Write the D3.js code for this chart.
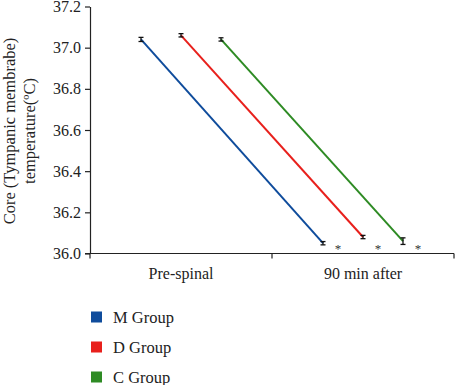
<!DOCTYPE html>
<html><head><meta charset="utf-8">
<script src="https://cdn.jsdelivr.net/npm/d3@7"></script>
<style>body{margin:0;background:#fff}svg{display:block}</style>
</head><body>
<svg id="c" width="455" height="385"></svg>
<script>
const categories = ["Pre-spinal", "90 min after"];
const groups = ["M Group", "D Group", "C Group"];
const colors = ["#0f4c9c", "#e8201c", "#2e8b24"];
const valuesM = [37.04, 36.05];
const valuesD = [37.06, 36.08];
const valuesC = [37.04, 36.06];
const errorsM = [0.01, 0.008];
const errorsD = [0.008, 0.008];
const errorsC = [0.008, 0.016];
const yTicks = [36.0, 36.2, 36.4, 36.6, 36.8, 37.0, 37.2];
const stars = ["*", "*", "*"];

const series = [valuesM, valuesD, valuesC];
const errs = [errorsM, errorsD, errorsC];

const svg = d3.select("#c");
const font = "Liberation Serif, DejaVu Serif, serif";
const x = d3.scaleBand().domain(categories).range([90, 454]).padding(0);
const g = d3.scalePoint().domain(groups).range([-40, 40]);
const y = d3.scaleLinear().domain([36.0, 37.2]).range([253.5, 6.5]);

// y axis
const yAxis = svg.append("g").attr("transform", "translate(90,0)")
  .call(d3.axisLeft(y).tickValues(yTicks).tickFormat(d3.format(".1f")).tickSize(5).tickSizeOuter(0));
yAxis.attr("font-family", null).attr("font-size", null);
yAxis.select(".domain").attr("stroke", "#222").attr("stroke-width", 1.2);
yAxis.selectAll(".tick line").attr("stroke", "#222").attr("stroke-width", 1.2);
yAxis.selectAll("text").style("font-family", font).style("font-size", "16px").attr("fill", "#222").attr("x", -9);

// x axis
const xa = svg.append("g");
xa.append("line").attr("x1", 85).attr("x2", 454).attr("y1", y(36)).attr("y2", y(36))
  .attr("stroke", "#222").attr("stroke-width", 1.2);
const bounds = categories.map(c => x(c)).concat([x(categories[categories.length-1]) + x.bandwidth()]);
xa.selectAll("line.t").data(bounds).join("line").attr("class","t")
  .attr("x1", d => d).attr("x2", d => d).attr("y1", y(36)).attr("y2", y(36) + 5)
  .attr("stroke", "#222").attr("stroke-width", 1.2);
xa.selectAll("text").data(categories).join("text")
  .attr("x", d => x(d) + x.bandwidth()/2).attr("y", 279)
  .attr("text-anchor", "middle").style("font-family", font).style("font-size", "16px").attr("fill", "#222")
  .text(d => d);

// y label
const yl = svg.append("text").attr("transform", "translate(0,131) rotate(-90)")
  .attr("text-anchor", "middle").style("font-family", font).style("font-size", "16.5px").attr("fill", "#222");
yl.append("tspan").attr("x", 0).attr("y", 15).text("Core (Tympanic membrabe)");
yl.append("tspan").attr("x", 0).attr("y", 35).text("temperature(ºC)");

// lines and error bars
groups.forEach((grp, i) => {
  const pts = categories.map((c, j) => ({x: x(c) + x.bandwidth()/2 + g(grp), v: series[i][j], e: errs[i][j]}));
  svg.append("path").datum(pts)
    .attr("d", d3.line().x(d => d.x).y(d => y(d.v)))
    .attr("fill", "none").attr("stroke", colors[i]).attr("stroke-width", 2);
  pts.forEach(p => {
    const eg = svg.append("g").attr("stroke", "#111").attr("stroke-width", 1.3);
    eg.append("line").attr("x1", p.x).attr("x2", p.x).attr("y1", y(p.v + p.e)).attr("y2", y(p.v - p.e));
    eg.append("line").attr("x1", p.x - 2.5).attr("x2", p.x + 2.5).attr("y1", y(p.v + p.e)).attr("y2", y(p.v + p.e));
    eg.append("line").attr("x1", p.x - 2.5).attr("x2", p.x + 2.5).attr("y1", y(p.v - p.e)).attr("y2", y(p.v - p.e));
  });
  // significance star
  svg.append("text").attr("x", x(categories[1]) + x.bandwidth()/2 + g(grp) + 15).attr("y", 253)
    .attr("text-anchor", "middle").style("font-family", font).style("font-size", "13px").style("fill", "#333")
    .text(stars[i]);
});

// legend
const lg = svg.append("g");
groups.forEach((grp, i) => {
  const cy = 317 + i * 30;
  lg.append("rect").attr("x", 91).attr("y", cy - 5.5).attr("width", 11).attr("height", 11).attr("fill", colors[i]);
  lg.append("text").attr("x", 113).attr("y", cy + 5.5).style("font-family", font).style("font-size", "16.5px")
    .attr("fill", "#222").text(grp);
});
</script>
</body></html>
